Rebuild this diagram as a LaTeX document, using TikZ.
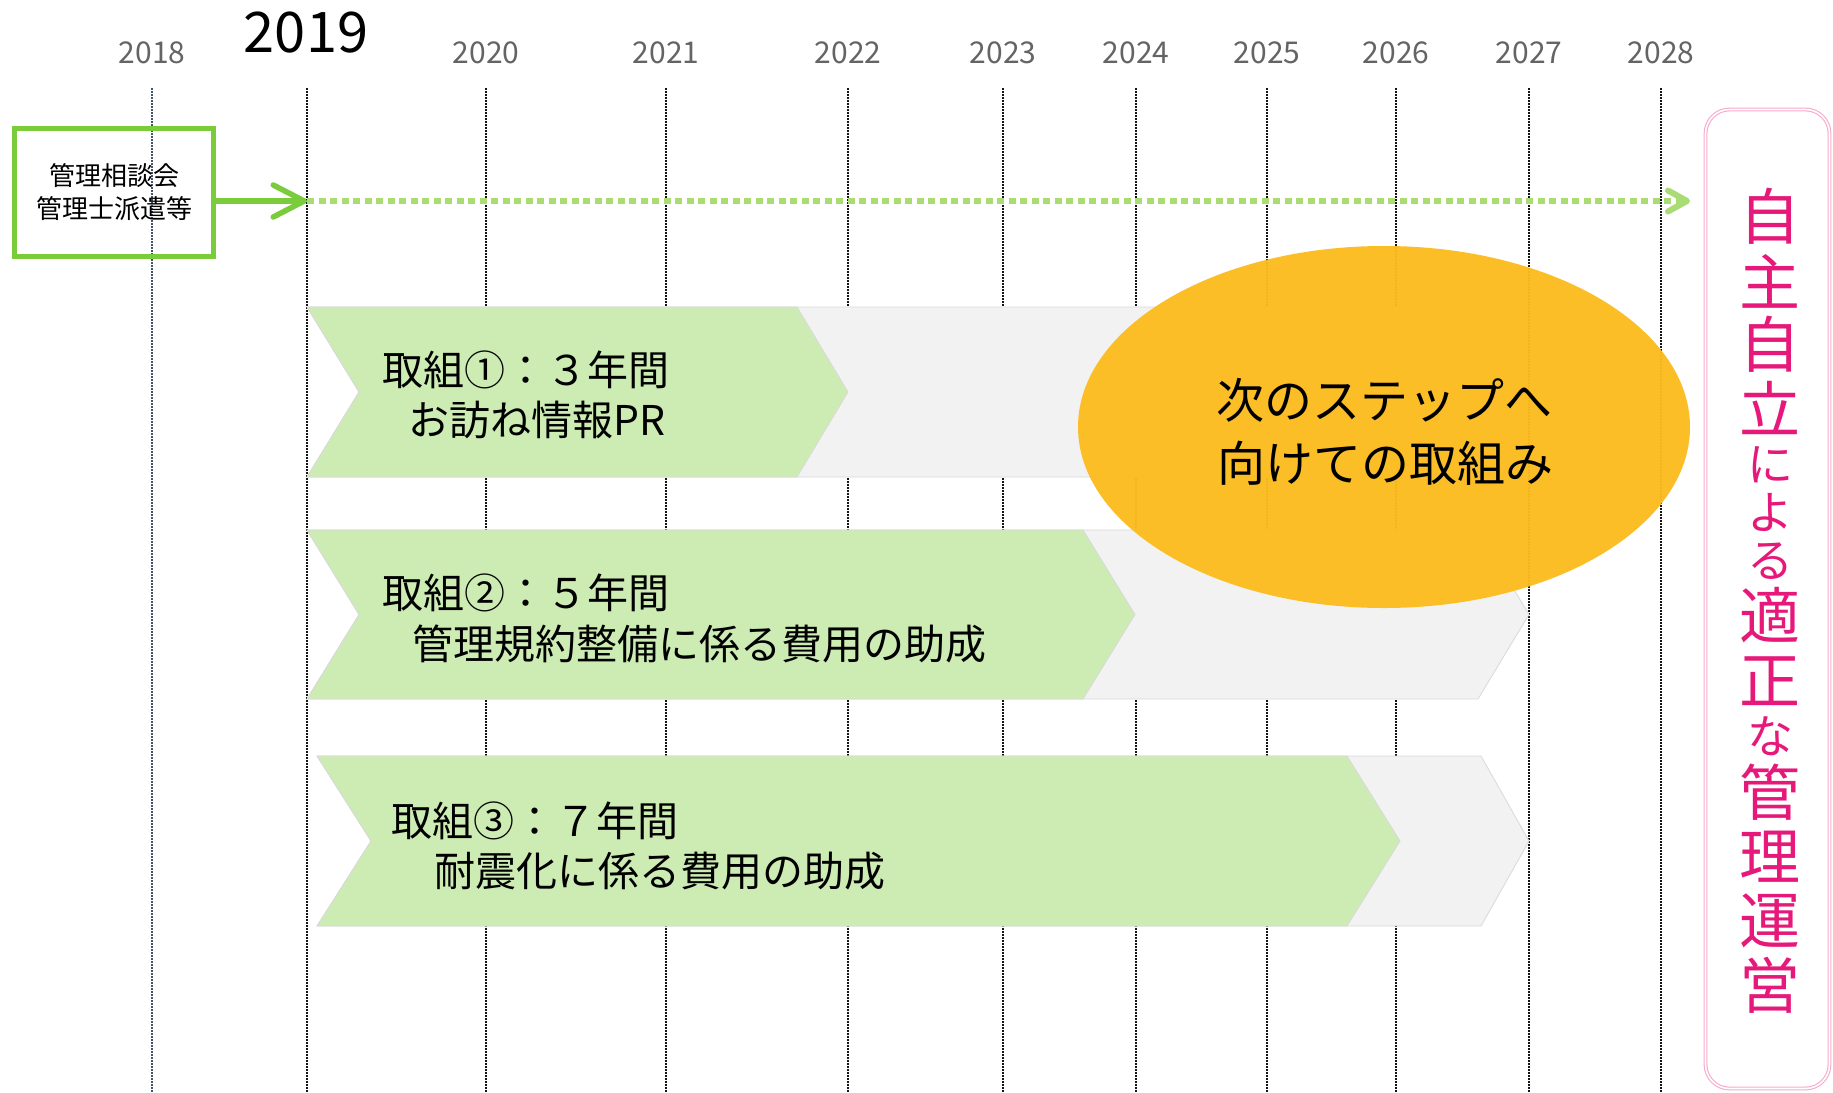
\documentclass[tikz,border=0pt]{standalone}
\usepackage{fontspec}
\newfontfamily\jp{Noto Sans CJK JP}
\usetikzlibrary{arrows.meta,shapes.geometric}
\definecolor{boxgreen}{RGB}{122,204,58}
\definecolor{dotgreen}{RGB}{169,220,115}
\definecolor{chevgreen}{RGB}{205,236,180}
\definecolor{chevgray}{RGB}{242,242,242}
\definecolor{chevline}{RGB}{217,217,217}
\definecolor{ellcol}{RGB}{252,188,30}
\definecolor{pinktxt}{RGB}{230,25,122}
\definecolor{pinkline}{RGB}{248,170,205}
\definecolor{yeargray}{RGB}{100,100,100}
\definecolor{vlinecol}{RGB}{20,20,20}
\definecolor{vline18}{RGB}{68,84,106}
\newcommand\jfs[1]{\jp\fontsize{#1}{#1}\selectfont}
\begin{document}
\begin{tikzpicture}[x=1pt,y=-1pt,
  vline/.style={draw=vlinecol,line width=1.4pt,dash pattern=on 1.5pt off 1.5pt},
  yearlbl/.style={text=yeargray,font=\jfs{30},inner sep=0pt},
  grayshape/.style={fill=chevgray,draw=chevline,line width=0.8pt},
  greenshape/.style={fill=chevgreen,draw=chevline,line width=0.8pt},
  chevtxt/.style={anchor=west,inner sep=0pt,font=\jfs{41},text=black},
  garrow/.style={draw=boxgreen,line width=5.5pt,-{Straight Barb[length=31pt,width=32pt,line cap=round,line join=round]}},
  dotarrow/.style={draw=dotgreen,line width=6pt,dash pattern=on 7pt off 4.5pt,-{Straight Barb[length=19pt,width=21pt,line cap=round,line join=round]}},
  vchar/.style={text=pinktxt,inner sep=0pt}
]
\useasboundingbox (0,0) rectangle (1833,1092);
\fill[white] (0,0) rectangle (1833,1092);

% year grid
\foreach \yr/\xx in {2019/307,2020/486,2021/666,2022/848,2023/1003,2024/1136,2025/1267,2026/1396,2027/1529,2028/1661}{
  \coordinate (top\yr) at (\xx,88);
  \coordinate (bot\yr) at (\xx,1092);
  \draw[vline] (top\yr) -- (bot\yr);
}
\coordinate (top2018) at (152,88);
\coordinate (bot2018) at (152,1092);
\draw[vline,draw=vline18] (top2018) -- (bot2018);
\foreach \yr/\xx in {2018/152,2020/486,2021/666,2022/848,2023/1003,2024/1136,2025/1267,2026/1396,2027/1529,2028/1661}{
  \node[yearlbl] (lbl\yr) at (\xx,53) {\yr};
}
\node[inner sep=0pt,font=\jfs{56},text=black] (lbl2019) at (306,33) {2019};

% green box and arrows
\node[draw=boxgreen,line width=5pt,minimum width=199pt,minimum height=128pt,
      align=center,inner sep=0pt,font=\jp\fontsize{26}{33}\selectfont] (box) at (114,192.5)
      {管理相談会\\管理士派遣等};
\coordinate (a2019) at (307,201);
\coordinate (a2028) at (1690,201);
\draw[dotarrow] (a2019) -- (a2028);
\draw[garrow] (box.east |- a2019) -- (a2019);

% chevrons row 1
\filldraw[grayshape] (307,307) -- (1479,307) -- (1529,392) -- (1479,477) -- (307,477) -- (359,392) -- cycle;
\filldraw[greenshape] (307,307) -- (797,307) -- (848,392) -- (797,477) -- (307,477) -- (359,392) -- cycle;
% row 2
\filldraw[grayshape] (307,530) -- (1478,530) -- (1529,614.5) -- (1478,699) -- (307,699) -- (359,614.5) -- cycle;
\filldraw[greenshape] (307,530) -- (1083,530) -- (1135,614.5) -- (1083,699) -- (307,699) -- (359,614.5) -- cycle;
% row 3
\filldraw[grayshape] (317,756) -- (1481,756) -- (1529,841) -- (1481,926) -- (317,926) -- (371,841) -- cycle;
\filldraw[greenshape] (317,756) -- (1347,756) -- (1400,841) -- (1347,926) -- (317,926) -- (371,841) -- cycle;

\node[chevtxt] (r1a) at (382,370) {取組①：３年間};
\node[chevtxt] (r1b) at (408,420) {お訪ね情報PR};
\node[chevtxt] (r2a) at (382,593) {取組②：５年間};
\node[chevtxt] (r2b) at (412,644) {管理規約整備に係る費用の助成};
\node[chevtxt] (r3a) at (391,821) {取組③：７年間};
\node[chevtxt] (r3b) at (434,871) {耐震化に係る費用の助成};

% ellipse
\node[ellipse,fill=ellcol,fill opacity=0.96,minimum width=612pt,minimum height=362pt,inner sep=0pt] (ell) at (1384,427) {};
\node[inner sep=0pt,font=\jfs{48},text=black] (e1) at (1384,400) {次のステップへ};
\node[inner sep=0pt,font=\jfs{48},text=black] (e2) at (1385,463) {向けての取組み};

% pink box
\node[draw=pinkline,double=white,double distance=1.6pt,line width=1.1pt,rounded corners=24pt,
      minimum width=124pt,minimum height=979pt,inner sep=0pt] (pbox) at (1767.5,599) {};
\foreach \c/\s/\yy [count=\i] in {自/61/216.5,主/61/281,自/61/344.5,立/61/407.5,に/46/465,よ/46/512.5,る/46/561.5,適/61/615,正/61/681,な/46/736.5,管/61/792.5,理/61/856.5,運/61/920.5,営/61/985}{
  \node[vchar,font=\jfs{\s}] (v\i) at (1770,\yy) {\c};
}
\end{tikzpicture}
\end{document}
